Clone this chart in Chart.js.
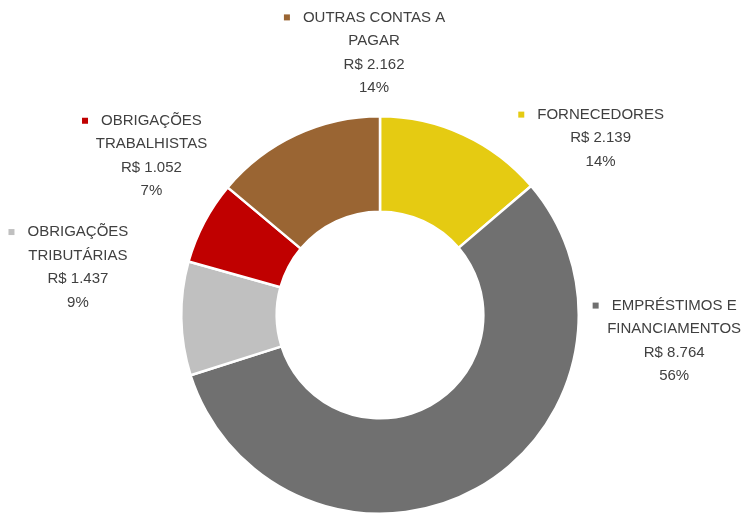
<!DOCTYPE html>
<html>
<head>
<meta charset="utf-8">
<script src="https://cdn.jsdelivr.net/npm/chart.js@4/dist/chart.umd.min.js"></script>
<style>
  html, body { margin: 0; padding: 0; background: #fff; }
  #wrap { width: 748px; height: 515px; }
</style>
</head>
<body>
<div id="wrap"><canvas id="chart" width="748" height="515"></canvas></div>
<script>
// Data
const categories = [
  ['FORNECEDORES'],
  ['EMPRÉSTIMOS E', 'FINANCIAMENTOS'],
  ['OBRIGAÇÕES', 'TRIBUTÁRIAS'],
  ['OBRIGAÇÕES', 'TRABALHISTAS'],
  ['OUTRAS CONTAS A', 'PAGAR']
];
const values = [2139, 8764, 1437, 1052, 2162];
const colors = ['#E5CB12', '#707070', '#C0C0C0', '#C00000', '#9A6533'];

// label block centres, relative to the doughnut centre, in outer-radius units
const labelSpots = [
  [1.11, -0.89],
  [1.48, 0.13],
  [-1.52, -0.24],
  [-1.15, -0.80],
  [-0.03, -1.32]
];

const TEXT_COLOR = '#404040';
const FONT = '15px "Liberation Sans", Arial, sans-serif';
const LINE_H = 23.5;

/**
 * Utility: format as R$ 1.234
 */
function formatMoney(v) {
  return 'R$ ' + v.toLocaleString('pt-BR');
}

/**
 * Draw Excel-style data labels with a small colour key
 */
const dataLabelsPlugin = {
  id: 'excelLabels',
  afterDraw(chart) {
    const ctx = chart.ctx;
    const meta = chart.getDatasetMeta(0);
    const total = values.reduce((a, b) => a + b, 0);
    ctx.save();
    ctx.font = FONT;
    ctx.textAlign = 'center';
    ctx.textBaseline = 'middle';
    meta.data.forEach((arc, i) => {
      const r = arc.outerRadius;
      const cx = arc.x + labelSpots[i][0] * r;
      const cy = arc.y + labelSpots[i][1] * r;
      const lines = categories[i].concat([
        formatMoney(values[i]),
        Math.round(values[i] / total * 100) + '%'
      ]);
      const top = cy - (lines.length - 1) * LINE_H / 2;
      ctx.fillStyle = TEXT_COLOR;
      lines.forEach((txt, k) => {
        ctx.fillText(txt, cx, top + k * LINE_H);
      });
      // colour key
      const firstW = ctx.measureText(lines[0]).width;
      ctx.fillStyle = colors[i];
      const mx = cx - firstW / 2 - 16;
      ctx.fillRect(mx - 3, top - 3, 6, 6);
    });
    ctx.restore();
  }
};

new Chart(document.getElementById('chart').getContext('2d'), {
  type: 'doughnut',
  data: {
    labels: categories.map(c => c.join(' ')),
    datasets: [{
      data: values,
      backgroundColor: colors,
      borderColor: '#ffffff',
      borderWidth: 2.5,
      hoverOffset: 0
    }]
  },
  options: {
    responsive: false,
    animation: false,
    cutout: '52%',
    layout: { padding: { top: 115, bottom: 0, left: 12, right: 0 } },
    plugins: {
      legend: { display: false },
      tooltip: { enabled: false }
    }
  },
  plugins: [dataLabelsPlugin]
});
</script>
</body>
</html>
